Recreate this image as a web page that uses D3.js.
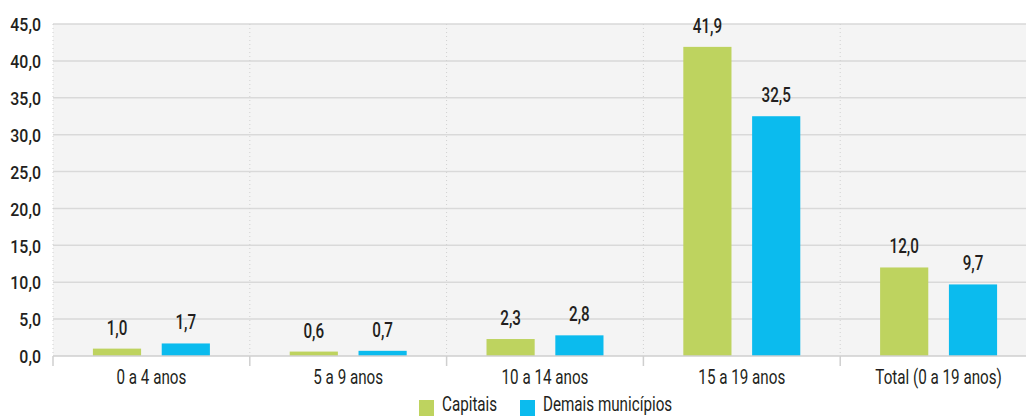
<!DOCTYPE html>
<html><head><meta charset="utf-8">
<script src="https://cdn.jsdelivr.net/npm/d3@7"></script>
<style>
html,body{margin:0;padding:0;background:#fff;overflow:hidden}
svg{display:block}
text{font-family:"Roboto","Liberation Sans",sans-serif;fill:#231f20}
</style></head>
<body>
<script>
const categories = ["0 a 4 anos","5 a 9 anos","10 a 14 anos","15 a 19 anos","Total (0 a 19 anos)"];
const seriesNames = ["Capitais","Demais municípios"];
const capitais = [1.0, 0.6, 2.3, 41.9, 12.0];
const demais = [1.7, 0.7, 2.8, 32.5, 9.7];
const yTicks = [0,5,10,15,20,25,30,35,40,45];
const colors = ["#bed35f","#0bbbee"];

const W = 1026, H = 416;
const SX = 0.78;
const m = {left:53, right:-11, top:24, bottom:60};
const svg = d3.select("body").append("svg").attr("width",W).attr("height",H);
const x = d3.scaleBand().domain(categories).range([m.left, W - m.right]).padding(0);
const y = d3.scaleLinear().domain([0,45]).range([H - m.bottom, m.top]);
const fmt = v => d3.format(".1f")(v).replace(".", ",");

// background
svg.append("rect").attr("x",m.left).attr("y",y(45)).attr("width",W - m.right - m.left).attr("height",y(0)-y(45)).attr("fill","#f4f4f4");

// gridlines
svg.append("g").selectAll("line").data(yTicks.filter(d=>d>0)).join("line")
  .attr("x1",m.left).attr("x2",W - m.right).attr("y1",d=>y(d)).attr("y2",d=>y(d))
  .attr("stroke","#d9d9d9").attr("stroke-width",1.5);

// vertical dotted separators
const bounds = categories.map(c=>x(c));
svg.append("g").selectAll("line").data(bounds).join("line")
  .attr("x1",d=>d).attr("x2",d=>d).attr("y1",y(45)).attr("y2",y(0))
  .attr("stroke","#d0d0d0").attr("stroke-width",1).attr("stroke-dasharray","1,3");

// bars
const xs = d3.scaleBand().domain(seriesNames).range([0, x.bandwidth()]).paddingInner(0.3).paddingOuter(0.58);
const data = categories.map((c,i)=>({c, vals:[capitais[i], demais[i]]}));
const grp = svg.append("g").selectAll("g").data(data).join("g").attr("transform",d=>`translate(${x(d.c)},0)`);
grp.selectAll("rect").data(d=>d.vals.map((v,j)=>({v,j}))).join("rect")
  .attr("x",d=>xs(seriesNames[d.j])).attr("width",xs.bandwidth())
  .attr("y",d=>y(d.v)).attr("height",d=>y(0)-y(d.v)).attr("fill",d=>colors[d.j]);
grp.selectAll("g.lab").data(d=>d.vals.map((v,j)=>({v,j}))).join("g").attr("class","lab")
  .attr("transform",d=>`translate(${xs(seriesNames[d.j])+xs.bandwidth()/2},${y(d.v)-14}) scale(${SX},1)`)
  .append("text").attr("text-anchor","middle").attr("font-size",19.5).attr("font-weight",500).text(d=>fmt(d.v));

// x axis line + ticks
svg.append("line").attr("x1",m.left).attr("x2",W).attr("y1",y(0)).attr("y2",y(0)).attr("stroke","#cfcfcf").attr("stroke-width",1.5);
svg.append("g").selectAll("line").data(bounds).join("line")
  .attr("x1",d=>d).attr("x2",d=>d).attr("y1",y(0)).attr("y2",y(0)+10)
  .attr("stroke","#cfcfcf").attr("stroke-width",1.5);
const xAxis = d3.axisBottom(x).tickSize(0).tickPadding(0);
const gx = svg.append("g").attr("transform",`translate(0,${y(0)})`).call(xAxis);
gx.select(".domain").remove();
gx.selectAll("text").attr("font-size",19.5).attr("font-family",null).attr("dy",null).attr("y",28)
  .attr("transform",`scale(${SX},1)`).attr("fill","#231f20");

// y axis
const YS = 0.86;
const yAxis = d3.axisLeft(y).tickValues(yTicks).tickSize(0).tickPadding(0).tickFormat(fmt);
const gy = svg.append("g").attr("transform",`translate(${m.left},0)`).call(yAxis);
gy.select(".domain").remove();
gy.selectAll("text").attr("font-size",18.5).attr("font-weight",500).attr("font-family",null)
  .attr("x",-12/YS).attr("dy","0.36em").attr("transform",`scale(${YS},1)`).attr("fill","#231f20");

// legend
const legItems = [{n:seriesNames[0],c:colors[0],x:419},{n:seriesNames[1],c:colors[1],x:520}];
const lg = svg.append("g").selectAll("g").data(legItems).join("g").attr("transform",d=>`translate(${d.x},400)`);
lg.append("rect").attr("width",15).attr("height",16).attr("fill",d=>d.c);
lg.append("g").attr("transform",`translate(23,11) scale(${SX},1)`)
  .append("text").attr("font-size",19.5).text(d=>d.n);
</script>
</body></html>
